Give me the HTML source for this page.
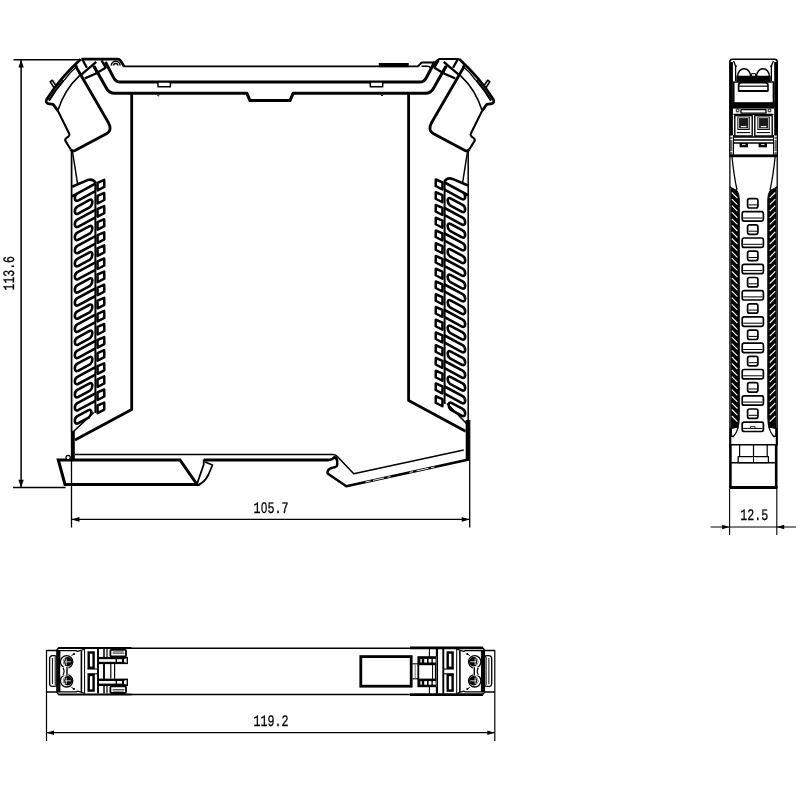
<!DOCTYPE html>
<html><head><meta charset="utf-8"><title>Dimension drawing</title>
<style>
html,body{margin:0;padding:0;background:#fff;}
body{width:800px;height:800px;overflow:hidden;font-family:"Liberation Mono",monospace;}
svg{display:block;will-change:transform}
svg text{font-family:"Liberation Mono",monospace;}
</style></head><body>
<svg width="800" height="800" viewBox="0 0 800 800" fill="none" stroke="#000" stroke-linecap="butt" stroke-linejoin="round">
<rect x="0" y="0" width="800" height="800" fill="#fff" stroke="none"/>
<g id="main">
<line x1="13.5" y1="59.8" x2="81" y2="59.8" stroke-width="1.4" />
<line x1="21.1" y1="59.8" x2="21.1" y2="487.5" stroke-width="1.5" />
<polygon points="21.1,59.8 23.80,67.60 18.40,67.60" fill="#000" stroke="none"/>
<polygon points="21.1,487.6 18.40,479.80 23.80,479.80" fill="#000" stroke="none"/>
<line x1="13" y1="487.5" x2="65.6" y2="487.5" stroke-width="1.3" />
<text transform="translate(14.3 290.5) rotate(-90) scale(0.7188 1)" x="0" y="0" font-size="16" fill="#000" stroke="#000" stroke-width="0.3" text-rendering="geometricPrecision">113.6</text>
<line x1="71.5" y1="151" x2="71.5" y2="527.5" stroke-width="1.3" />
<line x1="469.7" y1="420" x2="469.7" y2="527.5" stroke-width="1.3" />
<line x1="71.5" y1="519.4" x2="469.7" y2="519.4" stroke-width="1.4" />
<polygon points="71.5,519.4 79.50,517.00 79.50,521.80" fill="#000" stroke="none"/>
<polygon points="469.7,519.4 461.70,521.80 461.70,517.00" fill="#000" stroke="none"/>
<text transform="translate(253.5 512.6) scale(0.7292 1)" x="0" y="0" font-size="16" fill="#000" stroke="#000" stroke-width="0.3" text-rendering="geometricPrecision">1<tspan font-family="Liberation Sans, sans-serif" font-size="15.28" dx="0.55" letter-spacing="0.55">0</tspan>5.7</text>
<path d="M81.25,59.1 H117.5 Q119.5,59.1 120.6,60.8 L124,66.2" stroke-width="2.6" />
<path d="M123.5,66.25 H418.5" stroke-width="1.75" />
<rect x="378.75" y="63" width="30" height="4.2" fill="#000" stroke="none"/>
<path d="M418,66.25 L420.5,63.6 Q421.3,62.6 422.6,62.6 H434.5 L439.6,58.9 H459.5" stroke-width="2.0" />
<path d="M421.5,66.3 H427.5 Q429.6,66.3 430.3,68" stroke-width="1.4" />
<path d="M105.4,62 L113.6,77.6 Q115.8,82.1 120.5,82.1 H419.5 Q424.2,82.1 426.4,77.6 L434.6,62" stroke-width="3.0" />
<path d="M94,66.2 L106.3,88 Q109,93.3 114.5,93.3 H246.9 L250,100.6 H290 L293.1,93.3 H425.5 Q431,93.3 433.7,88 L446,66.2" stroke-width="3.0" />
<rect x="158" y="82" width="12.4" height="4.8" fill="#fff" stroke-width="1.5"/>
<rect x="370.3" y="82" width="12.4" height="4.8" fill="#fff" stroke-width="1.5"/>
<path d="M156.8,94.5 Q158.2,97.3 159.8,94.5" stroke-width="1.0" />
<path d="M380.5,94.5 Q382,97.3 383.5,94.5" stroke-width="1.0" />
<path d="M111.3,65.6 A4.4,4.4 0 0 1 120.1,65.6" stroke-width="1.5" />
<path d="M113.6,65.6 A2.1,2.1 0 0 1 117.8,65.6" stroke-width="1.5" />
<path d="M131.7,93.4 V409.4 L75,440" stroke-width="2.8" />
<path d="M408.6,93.4 V400.6 L465.6,431.3" stroke-width="2.8" />
<line x1="71.6" y1="151" x2="71.6" y2="432" stroke-width="1.5" />
<line x1="468.2" y1="151" x2="468.2" y2="422" stroke-width="1.5" />
<line x1="73" y1="431" x2="73" y2="459.5" stroke-width="3.6" />
<line x1="467.4" y1="420" x2="467.4" y2="460" stroke-width="3.4" />
<line x1="93.75" y1="412.5" x2="72.5" y2="432.5" stroke-width="1.6" />
<line x1="447" y1="403.5" x2="467" y2="424" stroke-width="1.6" />
<path d="M75,454.5 H333 Q336,454.5 337.6,456.8 L353.75,473.75 L463.75,450" stroke-width="1.55" />
<path d="M58.3,460 H180 L197,484.5 H65 Z" stroke-width="3.0" stroke-linejoin="miter"/>
<path d="M197.3,483 L203.75,464.5 V459.5" stroke-width="1.8" />
<path d="M197,485.3 Q204.5,483 208.5,474.5 L212.5,465 L205,462" stroke-width="1.8" />
<path d="M203.75,459.9 H329" stroke-width="3.0" />
<path d="M329,459.9 Q333,459.5 334.3,457 Q337.4,458.5 337.2,461.5 V465 Q337,467 334,467.4 L331,468.2 Q327.8,469.5 327.6,472 V473.5 L346.3,486.2 L468.8,459.5" stroke-width="2.5" />
<circle cx="68.1" cy="457.4" r="2.1" fill="#fff" stroke-width="1.2"/>
<line x1="365.5" y1="482.02" x2="370.5" y2="480.93" stroke="#fff" stroke-width="0.9"/>
<line x1="373" y1="480.38" x2="384" y2="477.98" stroke="#fff" stroke-width="0.9"/>
<line x1="387.5" y1="477.22" x2="390.5" y2="476.57" stroke="#fff" stroke-width="0.9"/>
<line x1="409.5" y1="472.42" x2="413" y2="471.66" stroke="#fff" stroke-width="0.9"/>
<line x1="416.5" y1="470.90" x2="428.5" y2="468.28" stroke="#fff" stroke-width="0.9"/>
<line x1="431" y1="467.74" x2="434.5" y2="466.98" stroke="#fff" stroke-width="0.9"/>
<g id="latchL"><path d="M75.3,65.5 L108.2,122.2 Q112.8,130.2 106.4,133.8 L75,150.4 Q72.2,151.8 70.6,149.2" stroke-width="2.8" />
<path d="M70.6,149.2 L65.7,141.4 Q64.5,139.4 66.4,138 L68.7,136.3 Q70,135.2 69.1,133.5 L57.8,110.6" stroke-width="2.1" />
<path d="M80.6,59.2 Q60,78 46.6,99.5 Q45.2,102.6 48.2,103.6 L53.2,104.4 L57.8,110.6" stroke-width="2.7" />
<path d="M77.6,65.8 Q70,72 64.2,80.4" stroke-width="1.4" />
<path d="M63.8,80.1 Q55.4,89.9 48.9,100.6" stroke-width="2.2" />
<path d="M54.5,88.5 L50.2,81.6 L52.3,80.3 L57,87" stroke-width="1.6" />
<path d="M79.75,75.3 Q64,90 57.9,110.5" stroke-width="1.6" />
<path d="M82.4,59.5 L86.9,67.8" stroke-width="2.3" />
<path d="M81.3,74.6 L96.3,61.8" stroke-width="2.3" />
<path d="M84.8,78.4 L95.5,73.8 L106,67.5" stroke-width="2.3" />
<path d="M93.3,65.6 L97.8,73.8" stroke-width="2.3" />
<path d="M101.5,60.3 L106,67.8" stroke-width="2.3" />
<path d="M72.4,151 L77.6,184" stroke-width="1.5" /></g>
<g id="latchR" transform="translate(540,0) scale(-1,1)"><path d="M75.3,65.5 L108.2,122.2 Q112.8,130.2 106.4,133.8 L75,150.4 Q72.2,151.8 70.6,149.2" stroke-width="2.8" />
<path d="M70.6,149.2 L65.7,141.4 Q64.5,139.4 66.4,138 L68.7,136.3 Q70,135.2 69.1,133.5 L57.8,110.6" stroke-width="2.1" />
<path d="M80.6,59.2 Q60,78 46.6,99.5 Q45.2,102.6 48.2,103.6 L53.2,104.4 L57.8,110.6" stroke-width="2.7" />
<path d="M77.6,65.8 Q70,72 64.2,80.4" stroke-width="1.4" />
<path d="M63.8,80.1 Q55.4,89.9 48.9,100.6" stroke-width="2.2" />
<path d="M54.5,88.5 L50.2,81.6 L52.3,80.3 L57,87" stroke-width="1.6" />
<path d="M79.75,75.3 Q64,90 57.9,110.5" stroke-width="1.6" />
<path d="M82.4,59.5 L86.9,67.8" stroke-width="2.3" />
<path d="M81.3,74.6 L96.3,61.8" stroke-width="2.3" />
<path d="M84.8,78.4 L95.5,73.8 L106,67.5" stroke-width="2.3" />
<path d="M93.3,65.6 L97.8,73.8" stroke-width="2.3" />
<path d="M101.5,60.3 L106,67.8" stroke-width="2.3" />
<path d="M72.4,151 L77.6,184" stroke-width="1.5" /></g>
<g id="ventL"><line x1="95.4" y1="181.5" x2="95.4" y2="413" stroke-width="2.0"/>
<path d="M72,186.7 L87.5,180.1 Q92.8,178.4 95.4,182.6" stroke-width="2.6" fill="none"/>
<path d="M95.4,183.70 L72,196.34 M77.4,193.42 C73.9,195.42 73.9,202.30 78,200.60 L95.4,191.20" stroke-width="2.6" fill="none"/>
<path d="M97.5,182.80 L104.2,179.90 L104.3,186.90 L97.6,190.40 Z" stroke-width="2.5" fill="none"/>
<path d="M77.4,206.52 L89.6,199.94 C93.19999999999999,198.34 93.19999999999999,204.44 90.0,207.22 L78,213.70 C73.9,215.40 73.9,208.52 77.4,206.52 Z" stroke-width="2.6" fill="none"/>
<path d="M97.5,195.90 L104.2,193.00 L104.3,200.00 L97.6,203.50 Z" stroke-width="2.5" fill="none"/>
<path d="M95.4,209.90 L77.4,219.62 M77.4,219.62 C73.9,221.62 73.9,228.50 78,226.80 L95.4,217.40" stroke-width="2.6" fill="none"/>
<path d="M97.5,209.00 L104.2,206.10 L104.3,213.10 L97.6,216.60 Z" stroke-width="2.5" fill="none"/>
<path d="M77.4,232.72 L89.6,226.14 C93.19999999999999,224.54 93.19999999999999,230.64 90.0,233.42 L78,239.90 C73.9,241.60 73.9,234.72 77.4,232.72 Z" stroke-width="2.6" fill="none"/>
<path d="M97.5,222.10 L104.2,219.20 L104.3,226.20 L97.6,229.70 Z" stroke-width="2.5" fill="none"/>
<path d="M95.4,236.10 L77.4,245.82 M77.4,245.82 C73.9,247.82 73.9,254.70 78,253.00 L95.4,243.60" stroke-width="2.6" fill="none"/>
<path d="M97.5,235.20 L104.2,232.30 L104.3,239.30 L97.6,242.80 Z" stroke-width="2.5" fill="none"/>
<path d="M77.4,258.92 L89.6,252.34 C93.19999999999999,250.74 93.19999999999999,256.84 90.0,259.62 L78,266.10 C73.9,267.80 73.9,260.92 77.4,258.92 Z" stroke-width="2.6" fill="none"/>
<path d="M97.5,248.30 L104.2,245.40 L104.3,252.40 L97.6,255.90 Z" stroke-width="2.5" fill="none"/>
<path d="M95.4,262.30 L77.4,272.02 M77.4,272.02 C73.9,274.02 73.9,280.90 78,279.20 L95.4,269.80" stroke-width="2.6" fill="none"/>
<path d="M97.5,261.40 L104.2,258.50 L104.3,265.50 L97.6,269.00 Z" stroke-width="2.5" fill="none"/>
<path d="M77.4,285.12 L89.6,278.54 C93.19999999999999,276.94 93.19999999999999,283.04 90.0,285.82 L78,292.30 C73.9,294.00 73.9,287.12 77.4,285.12 Z" stroke-width="2.6" fill="none"/>
<path d="M97.5,274.50 L104.2,271.60 L104.3,278.60 L97.6,282.10 Z" stroke-width="2.5" fill="none"/>
<path d="M95.4,288.50 L77.4,298.22 M77.4,298.22 C73.9,300.22 73.9,307.10 78,305.40 L95.4,296.00" stroke-width="2.6" fill="none"/>
<path d="M97.5,287.60 L104.2,284.70 L104.3,291.70 L97.6,295.20 Z" stroke-width="2.5" fill="none"/>
<path d="M77.4,311.32 L89.6,304.74 C93.19999999999999,303.14 93.19999999999999,309.24 90.0,312.02 L78,318.50 C73.9,320.20 73.9,313.32 77.4,311.32 Z" stroke-width="2.6" fill="none"/>
<path d="M97.5,300.70 L104.2,297.80 L104.3,304.80 L97.6,308.30 Z" stroke-width="2.5" fill="none"/>
<path d="M95.4,314.70 L77.4,324.42 M77.4,324.42 C73.9,326.42 73.9,333.30 78,331.60 L95.4,322.20" stroke-width="2.6" fill="none"/>
<path d="M97.5,313.80 L104.2,310.90 L104.3,317.90 L97.6,321.40 Z" stroke-width="2.5" fill="none"/>
<path d="M77.4,337.52 L89.6,330.94 C93.19999999999999,329.34 93.19999999999999,335.44 90.0,338.22 L78,344.70 C73.9,346.40 73.9,339.52 77.4,337.52 Z" stroke-width="2.6" fill="none"/>
<path d="M97.5,326.90 L104.2,324.00 L104.3,331.00 L97.6,334.50 Z" stroke-width="2.5" fill="none"/>
<path d="M95.4,340.90 L77.4,350.62 M77.4,350.62 C73.9,352.62 73.9,359.50 78,357.80 L95.4,348.40" stroke-width="2.6" fill="none"/>
<path d="M97.5,340.00 L104.2,337.10 L104.3,344.10 L97.6,347.60 Z" stroke-width="2.5" fill="none"/>
<path d="M77.4,363.72 L89.6,357.14 C93.19999999999999,355.54 93.19999999999999,361.64 90.0,364.42 L78,370.90 C73.9,372.60 73.9,365.72 77.4,363.72 Z" stroke-width="2.6" fill="none"/>
<path d="M97.5,353.10 L104.2,350.20 L104.3,357.20 L97.6,360.70 Z" stroke-width="2.5" fill="none"/>
<path d="M95.4,367.10 L77.4,376.82 M77.4,376.82 C73.9,378.82 73.9,385.70 78,384.00 L95.4,374.60" stroke-width="2.6" fill="none"/>
<path d="M97.5,366.20 L104.2,363.30 L104.3,370.30 L97.6,373.80 Z" stroke-width="2.5" fill="none"/>
<path d="M77.4,389.92 L89.6,383.34 C93.19999999999999,381.74 93.19999999999999,387.84 90.0,390.62 L78,397.10 C73.9,398.80 73.9,391.92 77.4,389.92 Z" stroke-width="2.6" fill="none"/>
<path d="M97.5,379.30 L104.2,376.40 L104.3,383.40 L97.6,386.90 Z" stroke-width="2.5" fill="none"/>
<path d="M95.4,393.30 L77.4,403.02 M77.4,403.02 C73.9,405.02 73.9,411.90 78,410.20 L95.4,400.80" stroke-width="2.6" fill="none"/>
<path d="M97.5,392.40 L104.2,389.50 L104.3,396.50 L97.6,400.00 Z" stroke-width="2.5" fill="none"/>
<path d="M77.4,416.12 L88.6,410.08 C92.19999999999999,408.48 92.19999999999999,414.58 89.0,417.36 L78,423.30 C73.9,425.00 73.9,418.12 77.4,416.12 Z" stroke-width="2.6" fill="none"/>
<path d="M97.5,405.50 L104.2,402.60 L104.3,409.60 L97.6,413.10 Z" stroke-width="2.5" fill="none"/></g>
<g id="ventR" transform="translate(540,0) scale(-1,1)"><line x1="95.4" y1="180.3" x2="95.4" y2="404" stroke-width="2.0"/>
<path d="M72,185.5 L87.5,178.9 Q92.8,177.20000000000002 95.4,181.4" stroke-width="2.6" fill="none"/>
<path d="M95.4,182.50 L72,195.14 M77.4,192.22 C73.9,194.22 73.9,200.80 78,199.10 L95.4,189.70" stroke-width="2.6" fill="none"/>
<path d="M97.5,182.40 L104.2,179.50 L104.3,186.00 L97.6,189.50 Z" stroke-width="2.5" fill="none"/>
<path d="M77.4,204.97 L89.6,198.39 C93.19999999999999,196.79 93.19999999999999,202.59 90.0,205.37 L78,211.85 C73.9,213.55 73.9,206.97 77.4,204.97 Z" stroke-width="2.6" fill="none"/>
<path d="M97.5,195.15 L104.2,192.25 L104.3,198.75 L97.6,202.25 Z" stroke-width="2.5" fill="none"/>
<path d="M95.4,208.00 L77.4,217.72 M77.4,217.72 C73.9,219.72 73.9,226.30 78,224.60 L95.4,215.20" stroke-width="2.6" fill="none"/>
<path d="M97.5,207.90 L104.2,205.00 L104.3,211.50 L97.6,215.00 Z" stroke-width="2.5" fill="none"/>
<path d="M77.4,230.47 L89.6,223.89 C93.19999999999999,222.29 93.19999999999999,228.09 90.0,230.87 L78,237.35 C73.9,239.05 73.9,232.47 77.4,230.47 Z" stroke-width="2.6" fill="none"/>
<path d="M97.5,220.65 L104.2,217.75 L104.3,224.25 L97.6,227.75 Z" stroke-width="2.5" fill="none"/>
<path d="M95.4,233.50 L77.4,243.22 M77.4,243.22 C73.9,245.22 73.9,251.80 78,250.10 L95.4,240.70" stroke-width="2.6" fill="none"/>
<path d="M97.5,233.40 L104.2,230.50 L104.3,237.00 L97.6,240.50 Z" stroke-width="2.5" fill="none"/>
<path d="M77.4,255.97 L89.6,249.39 C93.19999999999999,247.79 93.19999999999999,253.59 90.0,256.37 L78,262.85 C73.9,264.55 73.9,257.97 77.4,255.97 Z" stroke-width="2.6" fill="none"/>
<path d="M97.5,246.15 L104.2,243.25 L104.3,249.75 L97.6,253.25 Z" stroke-width="2.5" fill="none"/>
<path d="M95.4,259.00 L77.4,268.72 M77.4,268.72 C73.9,270.72 73.9,277.30 78,275.60 L95.4,266.20" stroke-width="2.6" fill="none"/>
<path d="M97.5,258.90 L104.2,256.00 L104.3,262.50 L97.6,266.00 Z" stroke-width="2.5" fill="none"/>
<path d="M77.4,281.47 L89.6,274.89 C93.19999999999999,273.29 93.19999999999999,279.09 90.0,281.87 L78,288.35 C73.9,290.05 73.9,283.47 77.4,281.47 Z" stroke-width="2.6" fill="none"/>
<path d="M97.5,271.65 L104.2,268.75 L104.3,275.25 L97.6,278.75 Z" stroke-width="2.5" fill="none"/>
<path d="M95.4,284.50 L77.4,294.22 M77.4,294.22 C73.9,296.22 73.9,302.80 78,301.10 L95.4,291.70" stroke-width="2.6" fill="none"/>
<path d="M97.5,284.40 L104.2,281.50 L104.3,288.00 L97.6,291.50 Z" stroke-width="2.5" fill="none"/>
<path d="M77.4,306.97 L89.6,300.39 C93.19999999999999,298.79 93.19999999999999,304.59 90.0,307.37 L78,313.85 C73.9,315.55 73.9,308.97 77.4,306.97 Z" stroke-width="2.6" fill="none"/>
<path d="M97.5,297.15 L104.2,294.25 L104.3,300.75 L97.6,304.25 Z" stroke-width="2.5" fill="none"/>
<path d="M95.4,310.00 L77.4,319.72 M77.4,319.72 C73.9,321.72 73.9,328.30 78,326.60 L95.4,317.20" stroke-width="2.6" fill="none"/>
<path d="M97.5,309.90 L104.2,307.00 L104.3,313.50 L97.6,317.00 Z" stroke-width="2.5" fill="none"/>
<path d="M77.4,332.47 L89.6,325.89 C93.19999999999999,324.29 93.19999999999999,330.09 90.0,332.87 L78,339.35 C73.9,341.05 73.9,334.47 77.4,332.47 Z" stroke-width="2.6" fill="none"/>
<path d="M97.5,322.65 L104.2,319.75 L104.3,326.25 L97.6,329.75 Z" stroke-width="2.5" fill="none"/>
<path d="M95.4,335.50 L77.4,345.22 M77.4,345.22 C73.9,347.22 73.9,353.80 78,352.10 L95.4,342.70" stroke-width="2.6" fill="none"/>
<path d="M97.5,335.40 L104.2,332.50 L104.3,339.00 L97.6,342.50 Z" stroke-width="2.5" fill="none"/>
<path d="M77.4,357.97 L89.6,351.39 C93.19999999999999,349.79 93.19999999999999,355.59 90.0,358.37 L78,364.85 C73.9,366.55 73.9,359.97 77.4,357.97 Z" stroke-width="2.6" fill="none"/>
<path d="M97.5,348.15 L104.2,345.25 L104.3,351.75 L97.6,355.25 Z" stroke-width="2.5" fill="none"/>
<path d="M95.4,361.00 L77.4,370.72 M77.4,370.72 C73.9,372.72 73.9,379.30 78,377.60 L95.4,368.20" stroke-width="2.6" fill="none"/>
<path d="M97.5,360.90 L104.2,358.00 L104.3,364.50 L97.6,368.00 Z" stroke-width="2.5" fill="none"/>
<path d="M77.4,383.47 L89.6,376.89 C93.19999999999999,375.29 93.19999999999999,381.09 90.0,383.87 L78,390.35 C73.9,392.05 73.9,385.47 77.4,383.47 Z" stroke-width="2.6" fill="none"/>
<path d="M97.5,373.65 L104.2,370.75 L104.3,377.25 L97.6,380.75 Z" stroke-width="2.5" fill="none"/>
<path d="M95.4,386.50 L77.4,396.22 M77.4,396.22 C73.9,398.22 73.9,404.80 78,403.10 L95.4,393.70" stroke-width="2.6" fill="none"/>
<path d="M97.5,386.40 L104.2,383.50 L104.3,390.00 L97.6,393.50 Z" stroke-width="2.5" fill="none"/>
<path d="M77.4,408.97 L88.6,402.93 C92.19999999999999,401.33 92.19999999999999,407.13 89.0,409.91 L78,415.85 C73.9,417.55 73.9,410.97 77.4,408.97 Z" stroke-width="2.6" fill="none"/>
<path d="M97.5,399.15 L104.2,396.25 L104.3,402.75 L97.6,406.25 Z" stroke-width="2.5" fill="none"/></g>
</g>
<g id="side">
<path d="M729.9,157 V61.8 Q729.9,59.2 732.5,59.2 H774.6 Q777.2,59.2 777.2,61.8 V157" stroke-width="1.6"/>
<line x1="731.4" y1="62" x2="731.4" y2="135" stroke-width="3.0"/>
<line x1="775.7" y1="62" x2="775.7" y2="135" stroke-width="3.0"/>
<line x1="731.5" y1="135" x2="731.5" y2="157" stroke-width="1.3" stroke="#666"/>
<line x1="775.6" y1="135" x2="775.6" y2="157" stroke-width="1.3" stroke="#666"/>
<line x1="733.4" y1="135" x2="733.4" y2="157" stroke-width="1.3"/>
<line x1="773.7" y1="135" x2="773.7" y2="157" stroke-width="1.3"/>
<path d="M733.6,61 L735.6,66 L735.6,81" stroke-width="1.3"/>
<path d="M773.4,61 L771.4,66 L771.4,81" stroke-width="1.3"/>
<circle cx="735.8" cy="66.3" r="1.1" fill="#000" stroke="none"/>
<circle cx="771.2" cy="66.3" r="1.1" fill="#000" stroke="none"/>
<rect x="736.3" y="75.8" width="34.4" height="6" fill="#000" stroke="none"/>
<path d="M737.6,76.6 C737.6,66 750.6,66 750.6,76.6 Z" fill="#fff" stroke-width="1.5"/>
<path d="M756.6,76.6 C756.6,66 769.4,66 769.4,76.6 Z" fill="#fff" stroke-width="1.5"/>
<rect x="751.6" y="73.6" width="4" height="2.6" fill="#fff" stroke-width="1.0"/>
<rect x="733.8" y="82" width="39.6" height="21" fill="#fff" stroke-width="1.5"/>
<path d="M738.6,91 V85 Q738.6,83.2 741,82.6 H765.6 Q768,83.2 768,85 V91 Z" fill="#fff" stroke-width="1.6"/>
<line x1="738.6" y1="86.2" x2="768" y2="86.2" stroke-width="1.2"/>
<line x1="738.6" y1="91" x2="768" y2="91" stroke-width="2.0"/>
<rect x="732.6" y="102.8" width="42" height="5.8" fill="#000" stroke="none"/>
<rect x="741" y="109.6" width="25" height="3.5" fill="#fff" stroke-width="1.3"/>
<rect x="736.3" y="109.2" width="2.6" height="2.6" fill="#fff" stroke-width="0.9"/>
<rect x="768.2" y="109.2" width="2.6" height="2.6" fill="#fff" stroke-width="0.9"/>
<line x1="733.5" y1="114.4" x2="773.6" y2="114.4" stroke-width="1.2"/>
<rect x="734.8" y="115.6" width="17.4" height="20.4" fill="#fff" stroke-width="1.4"/>
<rect x="737.4" y="116.6" width="12.4" height="13.4" fill="#000" stroke="none"/>
<rect x="738.5999999999999" y="117.6" width="10" height="11" fill="#1a1a1a" stroke="#fff" stroke-width="0.7"/>
<line x1="740.8" y1="126.6" x2="746.4" y2="126.6" stroke="#fff" stroke-width="1.2"/>
<line x1="736.8" y1="132.6" x2="750.1999999999999" y2="132.6" stroke-width="1.1"/>
<rect x="754.8" y="115.6" width="17.4" height="20.4" fill="#fff" stroke-width="1.4"/>
<rect x="757.4" y="116.6" width="12.4" height="13.4" fill="#000" stroke="none"/>
<rect x="758.5999999999999" y="117.6" width="10" height="11" fill="#1a1a1a" stroke="#fff" stroke-width="0.7"/>
<line x1="760.8" y1="126.6" x2="766.4" y2="126.6" stroke="#fff" stroke-width="1.2"/>
<line x1="756.8" y1="132.6" x2="770.1999999999999" y2="132.6" stroke-width="1.1"/>
<line x1="733" y1="137" x2="774" y2="137" stroke-width="1.3"/>
<line x1="733" y1="140" x2="774" y2="140" stroke-width="1.3"/>
<line x1="733" y1="143" x2="774" y2="143" stroke-width="1.3"/>
<rect x="739.6" y="143" width="8.4" height="4.3" fill="#000" stroke="none"/>
<rect x="758.6" y="143" width="8.4" height="4.3" fill="#000" stroke="none"/>
<line x1="742" y1="144.6" x2="745.6" y2="144.6" stroke="#fff" stroke-width="0.9"/>
<line x1="761" y1="144.6" x2="764.6" y2="144.6" stroke="#fff" stroke-width="0.9"/>
<line x1="730.4" y1="136.5" x2="733" y2="136.5" stroke="#fff" stroke-width="0.8"/>
<line x1="774" y1="136.5" x2="776.6" y2="136.5" stroke="#fff" stroke-width="0.8"/>
<line x1="730.4" y1="139.5" x2="733" y2="139.5" stroke="#fff" stroke-width="0.8"/>
<line x1="774" y1="139.5" x2="776.6" y2="139.5" stroke="#fff" stroke-width="0.8"/>
<line x1="730.4" y1="151.5" x2="733" y2="151.5" stroke="#fff" stroke-width="0.8"/>
<line x1="774" y1="151.5" x2="776.6" y2="151.5" stroke="#fff" stroke-width="0.8"/>
<rect x="729.9" y="154.4" width="47.3" height="2.8" fill="#000" stroke="none"/>
<line x1="729.9" y1="157" x2="729.9" y2="445" stroke-width="1.3"/>
<line x1="777.2" y1="157" x2="777.2" y2="445" stroke-width="1.3"/>
<path d="M732,157 Q734,176 737,190" stroke-width="1.3"/>
<path d="M775.1,157 Q773.1,176 770.1,190" stroke-width="1.3"/>
<path d="M729.9,187 L737,190.5 Q739.3,194 739.3,199 V418 Q739.3,430 733.2,437 L731,436 V187 Z" fill="#000" stroke-width="1"/>
<path d="M777.2,187 L770.1,190.5 Q767.8,194 767.8,199 V418 Q767.8,430 773.9,437 L776.1,436 V187 Z" fill="#000" stroke-width="1"/>
<path d="M731.3,428.5 L738.2,427 Q737,432.5 733.2,436.6 L731.3,435.6 Z" fill="#fff" stroke-width="1.1"/>
<path d="M775.8,428.5 L768.9,427 Q770.1,432.5 773.9,436.6 L775.8,435.6 Z" fill="#fff" stroke-width="1.1"/>
<line x1="730.4" y1="428" x2="730.4" y2="445" stroke-width="1.9"/>
<line x1="776.7" y1="428" x2="776.7" y2="445" stroke-width="1.9"/>
<line x1="731.8" y1="192.5" x2="737.4" y2="198.1" stroke="#fff" stroke-width="1.15"/>
<line x1="775.3" y1="192.5" x2="769.7" y2="198.1" stroke="#fff" stroke-width="1.15"/>
<line x1="731.8" y1="199.1" x2="737.4" y2="204.7" stroke="#fff" stroke-width="1.15"/>
<line x1="775.3" y1="199.1" x2="769.7" y2="204.7" stroke="#fff" stroke-width="1.15"/>
<line x1="731.8" y1="205.6" x2="737.4" y2="211.2" stroke="#fff" stroke-width="1.15"/>
<line x1="775.3" y1="205.6" x2="769.7" y2="211.2" stroke="#fff" stroke-width="1.15"/>
<line x1="731.8" y1="212.2" x2="737.4" y2="217.8" stroke="#fff" stroke-width="1.15"/>
<line x1="775.3" y1="212.2" x2="769.7" y2="217.8" stroke="#fff" stroke-width="1.15"/>
<line x1="731.8" y1="218.8" x2="737.4" y2="224.4" stroke="#fff" stroke-width="1.15"/>
<line x1="775.3" y1="218.8" x2="769.7" y2="224.4" stroke="#fff" stroke-width="1.15"/>
<line x1="731.8" y1="225.4" x2="737.4" y2="231.0" stroke="#fff" stroke-width="1.15"/>
<line x1="775.3" y1="225.4" x2="769.7" y2="231.0" stroke="#fff" stroke-width="1.15"/>
<line x1="731.8" y1="231.9" x2="737.4" y2="237.5" stroke="#fff" stroke-width="1.15"/>
<line x1="775.3" y1="231.9" x2="769.7" y2="237.5" stroke="#fff" stroke-width="1.15"/>
<line x1="731.8" y1="238.5" x2="737.4" y2="244.1" stroke="#fff" stroke-width="1.15"/>
<line x1="775.3" y1="238.5" x2="769.7" y2="244.1" stroke="#fff" stroke-width="1.15"/>
<line x1="731.8" y1="245.1" x2="737.4" y2="250.7" stroke="#fff" stroke-width="1.15"/>
<line x1="775.3" y1="245.1" x2="769.7" y2="250.7" stroke="#fff" stroke-width="1.15"/>
<line x1="731.8" y1="251.7" x2="737.4" y2="257.3" stroke="#fff" stroke-width="1.15"/>
<line x1="775.3" y1="251.7" x2="769.7" y2="257.3" stroke="#fff" stroke-width="1.15"/>
<line x1="731.8" y1="258.2" x2="737.4" y2="263.8" stroke="#fff" stroke-width="1.15"/>
<line x1="775.3" y1="258.2" x2="769.7" y2="263.8" stroke="#fff" stroke-width="1.15"/>
<line x1="731.8" y1="264.8" x2="737.4" y2="270.4" stroke="#fff" stroke-width="1.15"/>
<line x1="775.3" y1="264.8" x2="769.7" y2="270.4" stroke="#fff" stroke-width="1.15"/>
<line x1="731.8" y1="271.4" x2="737.4" y2="277.0" stroke="#fff" stroke-width="1.15"/>
<line x1="775.3" y1="271.4" x2="769.7" y2="277.0" stroke="#fff" stroke-width="1.15"/>
<line x1="731.8" y1="278.0" x2="737.4" y2="283.6" stroke="#fff" stroke-width="1.15"/>
<line x1="775.3" y1="278.0" x2="769.7" y2="283.6" stroke="#fff" stroke-width="1.15"/>
<line x1="731.8" y1="284.5" x2="737.4" y2="290.1" stroke="#fff" stroke-width="1.15"/>
<line x1="775.3" y1="284.5" x2="769.7" y2="290.1" stroke="#fff" stroke-width="1.15"/>
<line x1="731.8" y1="291.1" x2="737.4" y2="296.7" stroke="#fff" stroke-width="1.15"/>
<line x1="775.3" y1="291.1" x2="769.7" y2="296.7" stroke="#fff" stroke-width="1.15"/>
<line x1="731.8" y1="297.7" x2="737.4" y2="303.3" stroke="#fff" stroke-width="1.15"/>
<line x1="775.3" y1="297.7" x2="769.7" y2="303.3" stroke="#fff" stroke-width="1.15"/>
<line x1="731.8" y1="304.3" x2="737.4" y2="309.9" stroke="#fff" stroke-width="1.15"/>
<line x1="775.3" y1="304.3" x2="769.7" y2="309.9" stroke="#fff" stroke-width="1.15"/>
<line x1="731.8" y1="310.8" x2="737.4" y2="316.4" stroke="#fff" stroke-width="1.15"/>
<line x1="775.3" y1="310.8" x2="769.7" y2="316.4" stroke="#fff" stroke-width="1.15"/>
<line x1="731.8" y1="317.4" x2="737.4" y2="323.0" stroke="#fff" stroke-width="1.15"/>
<line x1="775.3" y1="317.4" x2="769.7" y2="323.0" stroke="#fff" stroke-width="1.15"/>
<line x1="731.8" y1="324.0" x2="737.4" y2="329.6" stroke="#fff" stroke-width="1.15"/>
<line x1="775.3" y1="324.0" x2="769.7" y2="329.6" stroke="#fff" stroke-width="1.15"/>
<line x1="731.8" y1="330.6" x2="737.4" y2="336.2" stroke="#fff" stroke-width="1.15"/>
<line x1="775.3" y1="330.6" x2="769.7" y2="336.2" stroke="#fff" stroke-width="1.15"/>
<line x1="731.8" y1="337.1" x2="737.4" y2="342.7" stroke="#fff" stroke-width="1.15"/>
<line x1="775.3" y1="337.1" x2="769.7" y2="342.7" stroke="#fff" stroke-width="1.15"/>
<line x1="731.8" y1="343.7" x2="737.4" y2="349.3" stroke="#fff" stroke-width="1.15"/>
<line x1="775.3" y1="343.7" x2="769.7" y2="349.3" stroke="#fff" stroke-width="1.15"/>
<line x1="731.8" y1="350.3" x2="737.4" y2="355.9" stroke="#fff" stroke-width="1.15"/>
<line x1="775.3" y1="350.3" x2="769.7" y2="355.9" stroke="#fff" stroke-width="1.15"/>
<line x1="731.8" y1="356.9" x2="737.4" y2="362.5" stroke="#fff" stroke-width="1.15"/>
<line x1="775.3" y1="356.9" x2="769.7" y2="362.5" stroke="#fff" stroke-width="1.15"/>
<line x1="731.8" y1="363.4" x2="737.4" y2="369.0" stroke="#fff" stroke-width="1.15"/>
<line x1="775.3" y1="363.4" x2="769.7" y2="369.0" stroke="#fff" stroke-width="1.15"/>
<line x1="731.8" y1="370.0" x2="737.4" y2="375.6" stroke="#fff" stroke-width="1.15"/>
<line x1="775.3" y1="370.0" x2="769.7" y2="375.6" stroke="#fff" stroke-width="1.15"/>
<line x1="731.8" y1="376.6" x2="737.4" y2="382.2" stroke="#fff" stroke-width="1.15"/>
<line x1="775.3" y1="376.6" x2="769.7" y2="382.2" stroke="#fff" stroke-width="1.15"/>
<line x1="731.8" y1="383.2" x2="737.4" y2="388.8" stroke="#fff" stroke-width="1.15"/>
<line x1="775.3" y1="383.2" x2="769.7" y2="388.8" stroke="#fff" stroke-width="1.15"/>
<line x1="731.8" y1="389.7" x2="737.4" y2="395.3" stroke="#fff" stroke-width="1.15"/>
<line x1="775.3" y1="389.7" x2="769.7" y2="395.3" stroke="#fff" stroke-width="1.15"/>
<line x1="731.8" y1="396.3" x2="737.4" y2="401.9" stroke="#fff" stroke-width="1.15"/>
<line x1="775.3" y1="396.3" x2="769.7" y2="401.9" stroke="#fff" stroke-width="1.15"/>
<line x1="731.8" y1="402.9" x2="737.4" y2="408.5" stroke="#fff" stroke-width="1.15"/>
<line x1="775.3" y1="402.9" x2="769.7" y2="408.5" stroke="#fff" stroke-width="1.15"/>
<line x1="731.8" y1="409.5" x2="737.4" y2="415.1" stroke="#fff" stroke-width="1.15"/>
<line x1="775.3" y1="409.5" x2="769.7" y2="415.1" stroke="#fff" stroke-width="1.15"/>
<line x1="731.8" y1="416.0" x2="737.4" y2="421.6" stroke="#fff" stroke-width="1.15"/>
<line x1="775.3" y1="416.0" x2="769.7" y2="421.6" stroke="#fff" stroke-width="1.15"/>
<rect x="747.6" y="198.60" width="10.3" height="9.4" rx="2" ry="2" fill="#fff" stroke-width="1.7"/>
<line x1="748.6" y1="204.90" x2="757" y2="204.90" stroke-width="1.0"/>
<rect x="742.2" y="211.70" width="21.2" height="9.4" rx="2" ry="2" fill="#fff" stroke-width="1.7"/>
<line x1="743.2" y1="218.00" x2="762.4" y2="218.00" stroke-width="1.0"/>
<rect x="747.6" y="224.90" width="10.3" height="9.4" rx="2" ry="2" fill="#fff" stroke-width="1.7"/>
<line x1="748.6" y1="231.20" x2="757" y2="231.20" stroke-width="1.0"/>
<rect x="742.2" y="238.00" width="21.2" height="9.4" rx="2" ry="2" fill="#fff" stroke-width="1.7"/>
<line x1="743.2" y1="244.30" x2="762.4" y2="244.30" stroke-width="1.0"/>
<rect x="747.6" y="251.20" width="10.3" height="9.4" rx="2" ry="2" fill="#fff" stroke-width="1.7"/>
<line x1="748.6" y1="257.50" x2="757" y2="257.50" stroke-width="1.0"/>
<rect x="742.2" y="264.30" width="21.2" height="9.4" rx="2" ry="2" fill="#fff" stroke-width="1.7"/>
<line x1="743.2" y1="270.60" x2="762.4" y2="270.60" stroke-width="1.0"/>
<rect x="747.6" y="277.50" width="10.3" height="9.4" rx="2" ry="2" fill="#fff" stroke-width="1.7"/>
<line x1="748.6" y1="283.80" x2="757" y2="283.80" stroke-width="1.0"/>
<rect x="742.2" y="290.60" width="21.2" height="9.4" rx="2" ry="2" fill="#fff" stroke-width="1.7"/>
<line x1="743.2" y1="296.90" x2="762.4" y2="296.90" stroke-width="1.0"/>
<rect x="747.6" y="303.80" width="10.3" height="9.4" rx="2" ry="2" fill="#fff" stroke-width="1.7"/>
<line x1="748.6" y1="310.10" x2="757" y2="310.10" stroke-width="1.0"/>
<rect x="742.2" y="316.90" width="21.2" height="9.4" rx="2" ry="2" fill="#fff" stroke-width="1.7"/>
<line x1="743.2" y1="323.20" x2="762.4" y2="323.20" stroke-width="1.0"/>
<rect x="747.6" y="330.10" width="10.3" height="9.4" rx="2" ry="2" fill="#fff" stroke-width="1.7"/>
<line x1="748.6" y1="336.40" x2="757" y2="336.40" stroke-width="1.0"/>
<rect x="742.2" y="343.20" width="21.2" height="9.4" rx="2" ry="2" fill="#fff" stroke-width="1.7"/>
<line x1="743.2" y1="349.50" x2="762.4" y2="349.50" stroke-width="1.0"/>
<rect x="747.6" y="356.40" width="10.3" height="9.4" rx="2" ry="2" fill="#fff" stroke-width="1.7"/>
<line x1="748.6" y1="362.70" x2="757" y2="362.70" stroke-width="1.0"/>
<rect x="742.2" y="369.50" width="21.2" height="9.4" rx="2" ry="2" fill="#fff" stroke-width="1.7"/>
<line x1="743.2" y1="375.80" x2="762.4" y2="375.80" stroke-width="1.0"/>
<rect x="747.6" y="382.70" width="10.3" height="9.4" rx="2" ry="2" fill="#fff" stroke-width="1.7"/>
<line x1="748.6" y1="389.00" x2="757" y2="389.00" stroke-width="1.0"/>
<rect x="742.2" y="395.80" width="21.2" height="9.4" rx="2" ry="2" fill="#fff" stroke-width="1.7"/>
<line x1="743.2" y1="402.10" x2="762.4" y2="402.10" stroke-width="1.0"/>
<rect x="747.6" y="409.00" width="10.3" height="9.4" rx="2" ry="2" fill="#fff" stroke-width="1.7"/>
<line x1="748.6" y1="415.30" x2="757" y2="415.30" stroke-width="1.0"/>
<rect x="742.2" y="422.10" width="21.2" height="9.4" rx="2" ry="2" fill="#fff" stroke-width="1.7"/>
<line x1="743.2" y1="428.40" x2="762.4" y2="428.40" stroke-width="1.0"/>
<path d="M750.6,428.3 V426.6 H755 V428.3" stroke-width="0.8"/>
<line x1="729.2" y1="444.8" x2="777.9" y2="444.8" stroke-width="1.6"/>
<line x1="730.4" y1="444.8" x2="730.4" y2="488" stroke-width="2.6"/>
<line x1="776.2" y1="444.8" x2="776.2" y2="488" stroke-width="2.6"/>
<line x1="739.6" y1="445" x2="739.6" y2="456.6" stroke-width="1.2"/>
<line x1="753.5" y1="445" x2="753.5" y2="456.6" stroke-width="1.2"/>
<line x1="767.2" y1="445" x2="767.2" y2="456.6" stroke-width="1.2"/>
<rect x="738.2" y="456.6" width="30.2" height="6" fill="#fff" stroke-width="1.3"/>
<line x1="753.5" y1="456.6" x2="753.5" y2="462.6" stroke-width="1.0"/>
<line x1="730" y1="462.8" x2="777" y2="462.8" stroke-width="1.6"/>
<line x1="729.2" y1="487.6" x2="777.6" y2="487.6" stroke-width="3.0"/>
<line x1="729.6" y1="489" x2="729.6" y2="535" stroke-width="1.1"/>
<line x1="776.8" y1="489" x2="776.8" y2="535" stroke-width="1.1"/>
<line x1="710.6" y1="527" x2="796" y2="527" stroke-width="1.2"/>
<polygon points="729.6,527 722.2,524.8 722.2,529.2" fill="#000" stroke="none"/>
<polygon points="776.8,527 784.2,524.8 784.2,529.2" fill="#000" stroke="none"/>
<text transform="translate(740.2 519.9) scale(0.7292 1)" x="0" y="0" font-size="16" fill="#000" stroke="#000" stroke-width="0.3" text-rendering="geometricPrecision">12.5</text>
</g>
<g id="bottom">
<line x1="46.5" y1="650" x2="46.5" y2="741" stroke-width="1.2"/>
<line x1="494.8" y1="650" x2="494.8" y2="741" stroke-width="1.2"/>
<line x1="46.5" y1="732.7" x2="494.8" y2="732.7" stroke-width="1.2"/>
<polygon points="46.5,732.7 54,730.5 54,734.9" fill="#000" stroke="none"/>
<polygon points="494.8,732.7 487.3,730.5 487.3,734.9" fill="#000" stroke="none"/>
<text transform="translate(253.5 725.6) scale(0.7292 1)" x="0" y="0" font-size="16" fill="#000" stroke="#000" stroke-width="0.3" text-rendering="geometricPrecision">119.2</text>
<line x1="58.5" y1="648" x2="131.5" y2="648" stroke-width="2.2"/>
<line x1="131" y1="648.2" x2="410" y2="648.2" stroke-width="1.5"/>
<line x1="410" y1="647.9" x2="483" y2="647.9" stroke-width="2.6"/>
<line x1="58.5" y1="694.5" x2="131.5" y2="694.5" stroke-width="2.2"/>
<line x1="131" y1="694.4" x2="410" y2="694.4" stroke-width="1.5"/>
<line x1="410" y1="694.6" x2="483" y2="694.6" stroke-width="2.6"/>
<g id="endL"><path d="M46.5,650.5 H56.5 L58.9,647.6" stroke-width="1.5"/>
<path d="M46.5,691.9 H56.5 L58.9,694.9" stroke-width="1.5"/>
<path d="M58,650.6 H76 L77.6,651.4 L84.4,649.3" stroke-width="1.2"/>
<path d="M58,691.9 H76 L77.6,691.1 L84.4,693.2" stroke-width="1.2"/>
<rect x="49.6" y="655.6" width="7.6" height="30.8" rx="3.2" ry="3.2" fill="#fff" stroke-width="1.3"/>
<line x1="52.4" y1="658" x2="52.4" y2="684" stroke-width="1.0"/>
<line x1="55.2" y1="657" x2="55.2" y2="685" stroke-width="1.0"/>
<rect x="56.2" y="650" width="4.2" height="42" fill="#000" stroke="none"/>
<circle cx="66.6" cy="661.8" r="6.2" fill="#fff" stroke-width="1.3"/>
<circle cx="66.6" cy="680.8" r="6.2" fill="#fff" stroke-width="1.3"/>
<rect x="60.4" y="667" width="8" height="8.6" fill="#fff" stroke="none"/>
<path d="M63,667.6 Q65.2,671.3 63,675" stroke-width="1.2"/>
<path d="M67,667.2 V675.4" stroke-width="1.4"/>
<circle cx="67.6" cy="661.8" r="4.7" fill="#000" stroke="none"/>
<path d="M64.6,658.4 Q62.6,661.8 64.6,665.1999999999999" stroke="#fff" stroke-width="0.8"/>
<line x1="66.2" y1="658.5999999999999" x2="66.2" y2="665.0" stroke="#fff" stroke-width="0.8"/>
<line x1="65" y1="661.8" x2="71" y2="661.8" stroke="#fff" stroke-width="0.8"/>
<circle cx="67.6" cy="680.8" r="4.7" fill="#000" stroke="none"/>
<path d="M64.6,677.4 Q62.6,680.8 64.6,684.1999999999999" stroke="#fff" stroke-width="0.8"/>
<line x1="66.2" y1="677.5999999999999" x2="66.2" y2="684.0" stroke="#fff" stroke-width="0.8"/>
<line x1="65" y1="680.8" x2="71" y2="680.8" stroke="#fff" stroke-width="0.8"/>
<circle cx="74" cy="654" r="1.1" fill="#000" stroke="none"/>
<circle cx="74" cy="689" r="1.1" fill="#000" stroke="none"/>
<path d="M71.5,655.6 L74,654" stroke-width="1.0"/>
<path d="M71.5,687.4 L74,689" stroke-width="1.0"/>
<line x1="81.4" y1="650.6" x2="81.4" y2="692" stroke-width="1.6"/>
<line x1="84.6" y1="649" x2="84.6" y2="693.6" stroke-width="1.0"/>
<rect x="88.7" y="652.5" width="4.9" height="15.3" fill="#fff" stroke-width="2.4" stroke-linejoin="miter"/>
<rect x="88.7" y="675" width="4.9" height="15.6" fill="#fff" stroke-width="2.4" stroke-linejoin="miter"/>
<line x1="87.5" y1="669" x2="98" y2="669" stroke-width="1.1"/>
<line x1="87.5" y1="673.8" x2="98" y2="673.8" stroke-width="1.1"/>
<line x1="98" y1="649" x2="98" y2="693.6" stroke-width="1.9"/>
<line x1="104" y1="649" x2="104" y2="693.6" stroke-width="1.5"/></g>
<g id="endR" transform="translate(541.3,0) scale(-1,1)"><path d="M46.5,650.5 H56.5 L58.9,647.6" stroke-width="1.5"/>
<path d="M46.5,691.9 H56.5 L58.9,694.9" stroke-width="1.5"/>
<path d="M58,650.6 H76 L77.6,651.4 L84.4,649.3" stroke-width="1.2"/>
<path d="M58,691.9 H76 L77.6,691.1 L84.4,693.2" stroke-width="1.2"/>
<rect x="49.6" y="655.6" width="7.6" height="30.8" rx="3.2" ry="3.2" fill="#fff" stroke-width="1.3"/>
<line x1="52.4" y1="658" x2="52.4" y2="684" stroke-width="1.0"/>
<line x1="55.2" y1="657" x2="55.2" y2="685" stroke-width="1.0"/>
<rect x="56.2" y="650" width="4.2" height="42" fill="#000" stroke="none"/>
<circle cx="66.6" cy="661.8" r="6.2" fill="#fff" stroke-width="1.3"/>
<circle cx="66.6" cy="680.8" r="6.2" fill="#fff" stroke-width="1.3"/>
<rect x="60.4" y="667" width="8" height="8.6" fill="#fff" stroke="none"/>
<path d="M63,667.6 Q65.2,671.3 63,675" stroke-width="1.2"/>
<path d="M67,667.2 V675.4" stroke-width="1.4"/>
<circle cx="67.6" cy="661.8" r="4.7" fill="#000" stroke="none"/>
<path d="M64.6,658.4 Q62.6,661.8 64.6,665.1999999999999" stroke="#fff" stroke-width="0.8"/>
<line x1="66.2" y1="658.5999999999999" x2="66.2" y2="665.0" stroke="#fff" stroke-width="0.8"/>
<line x1="65" y1="661.8" x2="71" y2="661.8" stroke="#fff" stroke-width="0.8"/>
<circle cx="67.6" cy="680.8" r="4.7" fill="#000" stroke="none"/>
<path d="M64.6,677.4 Q62.6,680.8 64.6,684.1999999999999" stroke="#fff" stroke-width="0.8"/>
<line x1="66.2" y1="677.5999999999999" x2="66.2" y2="684.0" stroke="#fff" stroke-width="0.8"/>
<line x1="65" y1="680.8" x2="71" y2="680.8" stroke="#fff" stroke-width="0.8"/>
<circle cx="74" cy="654" r="1.1" fill="#000" stroke="none"/>
<circle cx="74" cy="689" r="1.1" fill="#000" stroke="none"/>
<path d="M71.5,655.6 L74,654" stroke-width="1.0"/>
<path d="M71.5,687.4 L74,689" stroke-width="1.0"/>
<line x1="81.4" y1="650.6" x2="81.4" y2="692" stroke-width="1.6"/>
<line x1="84.6" y1="649" x2="84.6" y2="693.6" stroke-width="1.0"/>
<rect x="88.7" y="652.5" width="4.9" height="15.3" fill="#fff" stroke-width="2.4" stroke-linejoin="miter"/>
<rect x="88.7" y="675" width="4.9" height="15.6" fill="#fff" stroke-width="2.4" stroke-linejoin="miter"/>
<line x1="87.5" y1="669" x2="98" y2="669" stroke-width="1.1"/>
<line x1="87.5" y1="673.8" x2="98" y2="673.8" stroke-width="1.1"/>
<line x1="98" y1="649" x2="98" y2="693.6" stroke-width="1.9"/>
<line x1="104" y1="649" x2="104" y2="693.6" stroke-width="1.5"/></g>
<rect x="98" y="656.9" width="30" height="7.20" fill="#000" stroke="none"/>
<rect x="99" y="659.20" width="16.6" height="2.6" fill="#fff" stroke="none"/>
<rect x="117" y="659.20" width="5" height="2.6" fill="#fff" stroke="none"/>
<path d="M124,658.90 L126.6,658.30 V662.70 L124,662.10 Z" fill="#fff" stroke="none"/>
<rect x="98" y="678.6" width="30" height="7.40" fill="#000" stroke="none"/>
<rect x="99" y="681.00" width="16.6" height="2.6" fill="#fff" stroke="none"/>
<rect x="117" y="681.00" width="5" height="2.6" fill="#fff" stroke="none"/>
<path d="M124,680.70 L126.6,680.10 V684.50 L124,683.90 Z" fill="#fff" stroke="none"/>
<line x1="104" y1="664" x2="104" y2="678.6" stroke-width="1.5"/>
<line x1="110.8" y1="664" x2="110.8" y2="678.6" stroke-width="1.2"/>
<line x1="114.6" y1="664" x2="114.6" y2="678.6" stroke-width="1.2"/>
<line x1="107" y1="649" x2="107" y2="657" stroke-width="1.2"/>
<line x1="107" y1="686" x2="107" y2="693.6" stroke-width="1.2"/>
<rect x="110.4" y="649.8" width="15.6" height="6.6" rx="1" fill="#fff" stroke-width="1.8"/>
<line x1="112.6" y1="653.1" x2="124.4" y2="653.1" stroke-width="1.4" stroke="#555"/>
<line x1="113.2" y1="651.4" x2="123.6" y2="651.4" stroke-width="0.9" stroke="#777"/>
<rect x="110.4" y="686.4" width="15.6" height="6.6" rx="1" fill="#fff" stroke-width="1.8"/>
<line x1="112.6" y1="689.7" x2="124.4" y2="689.7" stroke-width="1.4" stroke="#555"/>
<line x1="113.2" y1="691.4" x2="123.6" y2="691.4" stroke-width="0.9" stroke="#777"/>
<rect x="360.8" y="656.6" width="50.4" height="29.6" fill="#fff" stroke-width="2.8" stroke-linejoin="miter"/>
<line x1="412.5" y1="663.8" x2="418" y2="663.8" stroke-width="1.1"/>
<line x1="412.5" y1="678.8" x2="418" y2="678.8" stroke-width="1.1"/>
<line x1="415.2" y1="663.8" x2="415.2" y2="678.8" stroke-width="0.9" stroke="#666"/>
<rect x="417.4" y="656.2" width="19" height="9.00" fill="#000" stroke="none"/>
<rect x="420.4" y="658.90" width="1.4" height="3.6" fill="#fff" stroke="none"/>
<rect x="424.2" y="658.90" width="2.8" height="3.6" fill="#fff" stroke="none"/>
<rect x="428.6" y="658.90" width="2.8" height="3.6" fill="#fff" stroke="none"/>
<rect x="432.8" y="658.90" width="2.8" height="3.6" fill="#fff" stroke="none"/>
<rect x="417.4" y="678.6" width="19" height="8.60" fill="#000" stroke="none"/>
<rect x="420.4" y="681.10" width="1.4" height="3.6" fill="#fff" stroke="none"/>
<rect x="424.2" y="681.10" width="2.8" height="3.6" fill="#fff" stroke="none"/>
<rect x="428.6" y="681.10" width="2.8" height="3.6" fill="#fff" stroke="none"/>
<rect x="432.8" y="681.10" width="2.8" height="3.6" fill="#fff" stroke="none"/>
<line x1="418.3" y1="665" x2="418.3" y2="679" stroke-width="1.8"/>
<line x1="432.6" y1="665" x2="432.6" y2="679" stroke-width="1.0"/>
<line x1="435.6" y1="665" x2="435.6" y2="679" stroke-width="1.4"/>
<line x1="429.4" y1="648" x2="429.4" y2="656.4" stroke-width="1.1"/>
<line x1="429.4" y1="687" x2="429.4" y2="694.4" stroke-width="1.1"/>
<line x1="436.4" y1="648" x2="436.4" y2="656.4" stroke-width="1.1"/>
<line x1="436.4" y1="687" x2="436.4" y2="694.4" stroke-width="1.1"/>
</g>
</svg>
</body></html>
